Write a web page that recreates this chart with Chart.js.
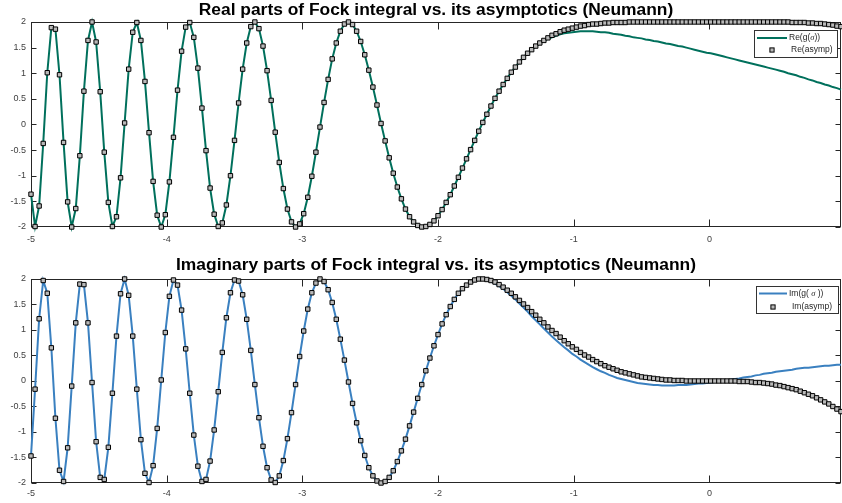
<!DOCTYPE html>
<html>
<head>
<meta charset="utf-8">
<script src="https://cdn.jsdelivr.net/npm/chart.js@4.4.1/dist/chart.umd.min.js"></script>
<style>
body{margin:0;background:#fff;}
canvas{position:absolute;left:0;}
</style>
</head>
<body>
<canvas id="reChart" width="842" height="252" style="top:0"></canvas>
<canvas id="imChart" width="842" height="251" style="top:252px"></canvas>
<script>
// sigma grid (x values)
const sigma=[-5,-4.97,-4.94,-4.91,-4.88,-4.85,-4.82,-4.79,-4.76,-4.73,
-4.7,-4.67,-4.64,-4.61,-4.58,-4.55,-4.52,-4.49,-4.46,-4.43,
-4.4,-4.37,-4.34,-4.31,-4.28,-4.25,-4.22,-4.19,-4.16,-4.13,
-4.1,-4.07,-4.04,-4.01,-3.98,-3.95,-3.92,-3.89,-3.86,-3.83,
-3.8,-3.77,-3.74,-3.71,-3.68,-3.65,-3.62,-3.59,-3.56,-3.53,
-3.5,-3.47,-3.44,-3.41,-3.38,-3.35,-3.32,-3.29,-3.26,-3.23,
-3.2,-3.17,-3.14,-3.11,-3.08,-3.05,-3.02,-2.99,-2.96,-2.93,
-2.9,-2.87,-2.84,-2.81,-2.78,-2.75,-2.72,-2.69,-2.66,-2.63,
-2.6,-2.57,-2.54,-2.51,-2.48,-2.45,-2.42,-2.39,-2.36,-2.33,
-2.3,-2.27,-2.24,-2.21,-2.18,-2.15,-2.12,-2.09,-2.06,-2.03,
-2,-1.97,-1.94,-1.91,-1.88,-1.85,-1.82,-1.79,-1.76,-1.73,
-1.7,-1.67,-1.64,-1.61,-1.58,-1.55,-1.52,-1.49,-1.46,-1.43,
-1.4,-1.37,-1.34,-1.31,-1.28,-1.25,-1.22,-1.19,-1.16,-1.13,
-1.1,-1.07,-1.04,-1.01,-0.98,-0.95,-0.92,-0.89,-0.86,-0.83,
-0.8,-0.77,-0.74,-0.71,-0.68,-0.65,-0.62,-0.59,-0.56,-0.53,
-0.5,-0.47,-0.44,-0.41,-0.38,-0.35,-0.32,-0.29,-0.26,-0.23,
-0.2,-0.17,-0.14,-0.11,-0.08,-0.05,-0.02,0.01,0.04,0.07,
0.1,0.13,0.16,0.19,0.22,0.25,0.28,0.31,0.34,0.37,
0.4,0.43,0.46,0.49,0.52,0.55,0.58,0.61,0.64,0.67,
0.7,0.73,0.76,0.79,0.82,0.85,0.88,0.91,0.94,0.97];

// Re(asymp) markers
const reAsymp=[-1.36,-1.99,-1.59,-0.37,1.01,1.89,1.86,0.97,-0.35,-1.51,
-2.00,-1.64,-0.61,0.65,1.64,2.00,1.61,0.64,-0.54,-1.52,
-1.99,-1.80,-1.04,0.03,1.08,1.80,1.99,1.64,0.84,-0.16,
-1.11,-1.77,-2.00,-1.76,-1.12,-0.25,0.67,1.43,1.90,1.99,
1.70,1.10,0.32,-0.51,-1.24,-1.75,-1.99,-1.92,-1.57,-1.00,
-0.31,0.42,1.08,1.59,1.91,2.00,1.87,1.53,1.05,0.47,
-0.15,-0.74,-1.25,-1.65,-1.90,-2.00,-1.94,-1.74,-1.42,-1.01,
-0.54,-0.05,0.43,0.88,1.28,1.59,1.82,1.96,2.00,1.95,
1.82,1.62,1.36,1.06,0.73,0.38,0.02,-0.32,-0.65,-0.95,
-1.22,-1.45,-1.65,-1.80,-1.90,-1.97,-2.00,-1.99,-1.95,-1.88,
-1.78,-1.66,-1.52,-1.37,-1.20,-1.03,-0.85,-0.67,-0.49,-0.31,
-0.13,0.04,0.20,0.36,0.51,0.65,0.78,0.90,1.02,1.12,
1.22,1.31,1.39,1.46,1.53,1.59,1.64,1.69,1.74,1.77,
1.81,1.84,1.86,1.88,1.90,1.92,1.93,1.95,1.96,1.96,
1.97,1.98,1.98,1.99,1.99,1.99,1.99,2.00,2.00,2.00,
2.00,2.00,2.00,2.00,2.00,2.00,2.00,2.00,2.00,2.00,
2.00,2.00,2.00,2.00,2.00,2.00,2.00,2.00,2.00,2.00,
2.00,2.00,2.00,2.00,2.00,2.00,2.00,2.00,2.00,2.00,
2.00,2.00,2.00,2.00,2.00,2.00,2.00,1.99,1.99,1.99,
1.99,1.98,1.98,1.97,1.97,1.96,1.95,1.94,1.92,1.91];

// Im(asymp) markers
const imAsymp=[-1.47,-0.16,1.22,1.97,1.72,0.65,-0.73,-1.75,-1.97,-1.31,
-0.10,1.14,1.90,1.89,1.14,-0.03,-1.19,-1.89,-1.93,-1.30,
-0.24,0.88,1.71,2.00,1.68,0.88,-0.16,-1.15,-1.81,-1.99,
-1.66,-0.93,0.02,0.95,1.66,1.98,1.88,1.39,0.63,-0.24,
-1.06,-1.67,-1.97,-1.93,-1.57,-0.96,-0.21,0.56,1.24,1.73,
1.98,1.96,1.69,1.21,0.60,-0.07,-0.72,-1.28,-1.70,-1.94,
-1.99,-1.86,-1.56,-1.13,-0.62,-0.07,0.48,0.98,1.41,1.73,
1.92,2.00,1.95,1.79,1.54,1.21,0.82,0.41,-0.02,-0.44,
-0.82,-1.17,-1.46,-1.70,-1.86,-1.96,-2.00,-1.97,-1.89,-1.76,
-1.58,-1.37,-1.14,-0.88,-0.61,-0.34,-0.07,0.20,0.45,0.69,
0.91,1.12,1.30,1.46,1.60,1.72,1.81,1.88,1.94,1.98,
2.00,2.00,1.99,1.97,1.94,1.89,1.84,1.78,1.72,1.65,
1.58,1.51,1.44,1.36,1.29,1.21,1.14,1.06,0.99,0.93,
0.86,0.79,0.73,0.67,0.62,0.56,0.51,0.47,0.42,0.38,
0.34,0.30,0.27,0.24,0.21,0.18,0.16,0.14,0.12,0.10,
0.08,0.07,0.06,0.05,0.04,0.03,0.02,0.02,0.01,0.01,
0.01,0,0,0,0,0,0,0,0,0,
0,0,0,0,-0.01,-0.01,-0.01,-0.02,-0.03,-0.03,
-0.04,-0.05,-0.06,-0.08,-0.09,-0.11,-0.13,-0.15,-0.17,-0.20,
-0.23,-0.26,-0.29,-0.33,-0.37,-0.41,-0.45,-0.50,-0.55,-0.60];

// Re(g(sigma)) line
const reG=[-1.36,-1.99,-1.59,-0.37,1.01,1.89,1.86,0.97,-0.35,-1.51,
-2.00,-1.64,-0.61,0.65,1.64,2.00,1.61,0.64,-0.54,-1.52,
-1.99,-1.80,-1.04,0.03,1.08,1.80,1.99,1.64,0.84,-0.16,
-1.11,-1.77,-2.00,-1.76,-1.12,-0.25,0.67,1.43,1.90,1.99,
1.70,1.10,0.32,-0.51,-1.24,-1.75,-1.99,-1.92,-1.57,-1.00,
-0.31,0.42,1.08,1.59,1.91,2.00,1.87,1.53,1.05,0.47,
-0.15,-0.74,-1.25,-1.65,-1.90,-2.00,-1.94,-1.74,-1.42,-1.01,
-0.54,-0.05,0.43,0.88,1.28,1.59,1.82,1.96,2.00,1.95,
1.82,1.62,1.36,1.06,0.73,0.38,0.02,-0.32,-0.65,-0.95,
-1.22,-1.45,-1.65,-1.80,-1.90,-1.97,-2.00,-1.99,-1.95,-1.88,
-1.78,-1.66,-1.52,-1.37,-1.20,-1.03,-0.85,-0.67,-0.49,-0.31,
-0.13,0.04,0.20,0.36,0.51,0.65,0.78,0.90,1.02,1.12,
1.22,1.31,1.39,1.46,1.52,1.58,1.63,1.67,1.70,1.73,
1.76,1.78,1.79,1.80,1.81,1.82,1.82,1.82,1.82,1.81,
1.80,1.80,1.79,1.77,1.76,1.75,1.73,1.72,1.70,1.69,
1.68,1.66,1.65,1.63,1.62,1.60,1.58,1.57,1.55,1.53,
1.52,1.50,1.48,1.46,1.44,1.42,1.40,1.39,1.37,1.35,
1.33,1.31,1.29,1.27,1.25,1.23,1.21,1.19,1.17,1.15,
1.13,1.11,1.09,1.07,1.05,1.03,1.00,0.98,0.96,0.93,
0.91,0.88,0.86,0.83,0.81,0.78,0.76,0.73,0.71,0.68];

// Im(g(sigma)) line
const imG=[-1.47,-0.16,1.22,1.97,1.72,0.65,-0.73,-1.75,-1.97,-1.31,
-0.10,1.14,1.90,1.89,1.14,-0.03,-1.19,-1.89,-1.93,-1.30,
-0.24,0.88,1.71,2.00,1.68,0.88,-0.16,-1.15,-1.81,-1.99,
-1.66,-0.93,0.02,0.95,1.66,1.98,1.88,1.39,0.63,-0.24,
-1.06,-1.67,-1.97,-1.93,-1.57,-0.96,-0.21,0.56,1.24,1.73,
1.98,1.96,1.69,1.21,0.60,-0.07,-0.72,-1.28,-1.70,-1.94,
-1.99,-1.86,-1.56,-1.13,-0.62,-0.07,0.48,0.98,1.41,1.73,
1.92,2.00,1.95,1.79,1.54,1.21,0.82,0.41,-0.02,-0.44,
-0.82,-1.17,-1.46,-1.70,-1.86,-1.96,-2.00,-1.97,-1.89,-1.76,
-1.58,-1.37,-1.14,-0.88,-0.61,-0.34,-0.07,0.20,0.45,0.69,
0.91,1.12,1.30,1.46,1.60,1.72,1.81,1.88,1.94,1.98,
1.99,1.99,1.98,1.95,1.91,1.86,1.81,1.74,1.67,1.60,
1.52,1.44,1.36,1.27,1.19,1.11,1.03,0.95,0.87,0.80,
0.73,0.66,0.60,0.53,0.48,0.42,0.37,0.32,0.27,0.23,
0.19,0.16,0.12,0.09,0.06,0.04,0.02,0.00,-0.02,-0.04,
-0.05,-0.06,-0.07,-0.08,-0.08,-0.09,-0.09,-0.09,-0.09,-0.08,
-0.08,-0.08,-0.07,-0.06,-0.05,-0.05,-0.04,-0.03,-0.02,-0.01,
0.00,0.01,0.03,0.04,0.05,0.07,0.08,0.09,0.11,0.12,
0.14,0.15,0.16,0.18,0.19,0.20,0.21,0.22,0.24,0.25,
0.26,0.26,0.27,0.28,0.29,0.30,0.30,0.31,0.32,0.32];

const xTickStep=1;
const yTickStep=0.5;

Chart.defaults.font.family="'Liberation Sans', Arial, Helvetica, sans-serif";

const toPoints=(ys)=>sigma.map((x,i)=>({x:x,y:ys[i]}));

// box around the axes with inward ticks, matlab style
const framePlugin={
    id:'frame',
    beforeDatasetsDraw:(chart)=>{
        const ctx=chart.ctx;
        const a=chart.chartArea;
        const l=Math.round(a.left)+0.5, r=Math.round(a.right)-0.5;
        const t=Math.round(a.top)+0.5, b=Math.round(a.bottom)-0.5;
        ctx.save();
        ctx.strokeStyle='#262626';
        ctx.lineWidth=1;
        ctx.strokeRect(l,t,r-l,b-t);
        ctx.beginPath();
        chart.scales.x.ticks.forEach((tk)=>{
            const px=Math.round(chart.scales.x.getPixelForValue(tk.value))+0.5;
            ctx.moveTo(px,b); ctx.lineTo(px,b-7);
            ctx.moveTo(px,t); ctx.lineTo(px,t+7);
        });
        chart.scales.y.ticks.forEach((tk)=>{
            const py=Math.round(chart.scales.y.getPixelForValue(tk.value))+0.5;
            ctx.moveTo(l,py); ctx.lineTo(l+5,py);
            ctx.moveTo(r,py); ctx.lineTo(r-5,py);
        });
        ctx.stroke();
        ctx.restore();
    }
};

// legend box drawn inside the axes
const drawLabel=(ctx,text,x,y)=>{
    const parts=text.split('σ');
    let cx=x;
    parts.forEach((p,i)=>{
        ctx.font="8.5px 'Liberation Sans', Arial, sans-serif";
        ctx.fillText(p,cx,y);
        cx+=ctx.measureText(p).width;
        if(i<parts.length-1){
            ctx.font="italic 8.5px 'Liberation Serif', 'Times New Roman', serif";
            ctx.fillText('σ',cx,y);
            cx+=ctx.measureText('σ').width;
        }
    });
};
const legendBoxPlugin={
    id:'legendBox',
    afterDraw:(chart,args,o)=>{
        const ctx=chart.ctx;
        const mark=chart.data.datasets[0];
        const line=chart.data.datasets[1];
        ctx.save();
        ctx.fillStyle='#fff';
        ctx.fillRect(o.x,o.y,o.w,o.h);
        ctx.strokeStyle='#333';
        ctx.lineWidth=1;
        ctx.strokeRect(o.x+0.5,o.y+0.5,o.w,o.h);
        ctx.strokeStyle=line.borderColor;
        ctx.lineWidth=2;
        ctx.beginPath();
        ctx.moveTo(o.x+3,o.y+o.row1);
        ctx.lineTo(o.x+o.lineLen+3,o.y+o.row1);
        ctx.stroke();
        const s=4.2;
        const mx=o.x+3+o.lineLen/2, my=o.y+o.row2;
        ctx.fillStyle=mark.pointBackgroundColor;
        ctx.fillRect(mx-s/2,my-s/2,s,s);
        ctx.strokeStyle='#000';
        ctx.lineWidth=1;
        ctx.strokeRect(mx-s/2,my-s/2,s,s);
        ctx.fillStyle='#262626';
        ctx.textBaseline='middle';
        drawLabel(ctx,line.label,o.x+o.text1,o.y+o.row1);
        drawLabel(ctx,mark.label,o.x+o.text2,o.y+o.row2);
        ctx.restore();
    }
};

const makeChart=(id,title,lineVals,markVals,lineColor,lineLabel,markLabel,lay)=>new Chart(document.getElementById(id),{
    type:'scatter',
    data:{
        datasets:[{
            label:markLabel,
            data:toPoints(markVals),
            showLine:false,
            pointStyle:'rect',
            pointRadius:3.1,
            pointBackgroundColor:'#b9b9b9',
            pointBorderColor:'#000',
            pointBorderWidth:1,
            order:0,
            clip:false
        },{
            label:lineLabel,
            data:toPoints(lineVals),
            showLine:true,
            borderColor:lineColor,
            borderWidth:2,
            pointRadius:0,
            tension:0,
            order:1,
            clip:false
        }]
    },
    options:{
        responsive:false,
        animation:false,
        events:[],
        layout:{padding:{left:0,right:1,top:0,bottom:0},autoPadding:false},
        plugins:{
            legend:{display:false},
            tooltip:{enabled:false},
            title:{
                display:true,
                fullSize:false,
                text:title,
                color:'#000',
                font:{size:17.4,weight:'bold'},
                padding:{top:lay.titleTop,bottom:lay.titleBottom}
            },
            legendBox:lay.legend
        },
        scales:{
            x:{
                type:'linear',
                min:-5,
                max:0.97,
                grid:{display:false,drawTicks:false},
                border:{display:false},
                ticks:{stepSize:xTickStep,includeBounds:false,autoSkip:false,maxRotation:0,
                    color:'#404040',font:{size:9},padding:lay.xPad,callback:(v)=>String(v)},
                afterFit:(s)=>{s.height=lay.xH;}
            },
            y:{
                min:-2,
                max:2,
                grid:{display:false,drawTicks:false},
                border:{display:false},
                ticks:{stepSize:yTickStep,color:'#404040',font:{size:9},padding:5,callback:(v)=>String(v)},
                afterFit:(s)=>{s.width=31;}
            }
        }
    },
    plugins:[framePlugin,legendBoxPlugin]
});

makeChart('reChart','Real parts of Fock integral vs. its asymptotics (Neumann)',reG,reAsymp,
    'rgb(0,112,92)','Re(g(σ))','Re(asymp)',
    {titleTop:0,titleBottom:1.1,xPad:7,xH:25,
     legend:{x:754,y:30,w:83,h:27,row1:8,row2:20,lineLen:30,text1:35,text2:37}});

makeChart('imChart','Imaginary parts of Fock integral vs. its asymptotics (Neumann)',imG,imAsymp,
    'rgb(58,128,192)','Im(g( σ ))','Im(asymp)',
    {titleTop:2.6,titleBottom:3.5,xPad:5,xH:20,
     legend:{x:756,y:34,w:82,h:27,row1:7.5,row2:21,lineLen:28,text1:33,text2:36}});
</script>
</body>
</html>
